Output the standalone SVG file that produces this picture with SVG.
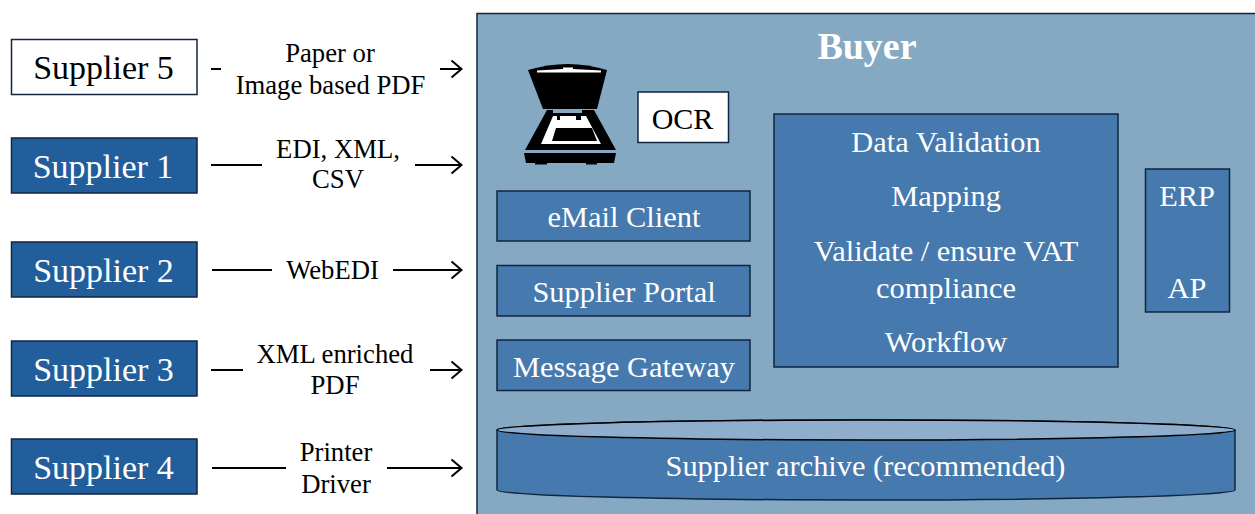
<svg xmlns="http://www.w3.org/2000/svg" width="1255" height="514" viewBox="0 0 1255 514">
<style>
text{font-family:"Liberation Serif","Times New Roman",serif;text-anchor:middle}
.sup{font-size:34px}
.lab{font-size:26.700px;fill:#000}
.in{font-size:30.400px;fill:#fff}
.box{fill:#4679ad;stroke:#10253f;stroke-width:1.5}
.sb{fill:#215e9b;stroke:#10253f;stroke-width:1.5}
.c{fill:none;stroke:#000;stroke-width:2}
</style>
<defs>
<marker id="a" markerWidth="24" markerHeight="20" refX="21" refY="10" markerUnits="userSpaceOnUse" orient="auto"><path d="M11 1.500L21 10L11 18.500" fill="none" stroke="#000" stroke-width="2"/></marker>
</defs>
<g id="buyer"><rect x="477" y="13.500" width="790" height="510" fill="#85a9c3" stroke="#10253f" stroke-width="1.500"/><text x="867" y="59" font-size="38" font-weight="bold" fill="#fff">Buyer</text></g>
<g id="connectors">
<path class="c" d="M211 69H221"/><path class="c" marker-end="url(#a)" d="M440 69H461.500"/>
<path class="c" d="M211 165H262"/><path class="c" marker-end="url(#a)" d="M415 165H461.500"/>
<path class="c" d="M212 270H272"/><path class="c" marker-end="url(#a)" d="M393 270H461.500"/>
<path class="c" d="M211 370H243"/><path class="c" marker-end="url(#a)" d="M430 370H461.500"/>
<path class="c" d="M212 468H286"/><path class="c" marker-end="url(#a)" d="M387 468H461.500"/>
</g>
<g id="supplier5"><rect x="11.500" y="39.500" width="185.500" height="55" fill="#fff" stroke="#10253f" stroke-width="1.500"/><text class="sup" x="103.500" y="78.500" fill="#000">Supplier 5</text></g>
<g id="supplier1"><rect class="sb" x="11.500" y="138" width="185.500" height="55"/><text class="sup" x="103" y="178" fill="#fff">Supplier 1</text></g>
<g id="supplier2"><rect class="sb" x="11.500" y="242" width="185.500" height="55"/><text class="sup" x="103.500" y="282" fill="#fff">Supplier 2</text></g>
<g id="supplier3"><rect class="sb" x="11.500" y="341" width="185.500" height="55"/><text class="sup" x="103.500" y="381" fill="#fff">Supplier 3</text></g>
<g id="supplier4"><rect class="sb" x="11.500" y="439" width="185.500" height="55"/><text class="sup" x="103.500" y="478.500" fill="#fff">Supplier 4</text></g>
<g id="labels">
<text class="lab" x="330" y="62">Paper or</text><text class="lab" x="330.500" y="94">Image based PDF</text>
<text class="lab" x="338" y="158">EDI, XML,</text><text class="lab" x="338" y="188">CSV</text>
<text class="lab" x="332.500" y="279">WebEDI</text>
<text class="lab" x="335" y="363">XML enriched</text><text class="lab" x="335" y="394">PDF</text>
<text class="lab" x="336" y="461">Printer</text><text class="lab" x="336" y="493">Driver</text>
</g>
<g id="scanner">
<path d="M528 70Q568 58 607 70L597 109H543Z" fill="#000"/>
<path d="M537 70.500L563 69V67.500H573V69L601 70.500V72.500H537Z" fill="#fff"/>
<path d="M547 110H553V113H582V110H594L616 150H525Z" fill="#000"/>
<path d="M553 116H557V120H560V116H576V120H581V116H586L601 144H541Z" fill="#fff"/>
<path d="M556 128H592L597 141H552Z" fill="#000"/>
<path d="M524 153H616L614 163H597V164.500H586V163H547V164.500H535V163H526Z" fill="#000"/>
</g>
<g id="ocr"><rect x="638" y="92" width="90.500" height="50.500" fill="#fff" stroke="#10253f" stroke-width="1.500"/><text x="682.500" y="129" font-size="30" fill="#000">OCR</text></g>
<g id="email"><rect class="box" x="497" y="191" width="253" height="50"/><text class="in" x="624" y="227">eMail Client</text></g>
<g id="portal"><rect class="box" x="497" y="265.500" width="253" height="50.500"/><text class="in" x="624" y="302">Supplier Portal</text></g>
<g id="gateway"><rect class="box" x="497" y="340" width="253" height="50.500"/><text class="in" x="624" y="377">Message Gateway</text></g>
<g id="processing"><rect class="box" x="774" y="114" width="344" height="253"/>
<text class="in" x="946" y="152">Data Validation</text><text class="in" x="946" y="206">Mapping</text><text class="in" x="946" y="261">Validate / ensure VAT</text><text class="in" x="946" y="298">compliance</text><text class="in" x="946" y="352">Workflow</text></g>
<g id="erp"><rect class="box" x="1145.500" y="169" width="84" height="143"/><text class="in" x="1187" y="206">ERP</text><text class="in" x="1187" y="298">AP</text></g>
<g id="archive">
<path d="M497 430A369 10 0 0 1 1235 430V490A369 10 0 0 1 497 490Z" fill="#4679ad" stroke="#10253f" stroke-width="1.500"/>
<ellipse cx="866" cy="430" rx="369" ry="10" fill="#8fadcd" stroke="#000" stroke-width="1.500"/>
<text class="in" x="865.500" y="476">Supplier archive (recommended)</text>
</g>
</svg>
